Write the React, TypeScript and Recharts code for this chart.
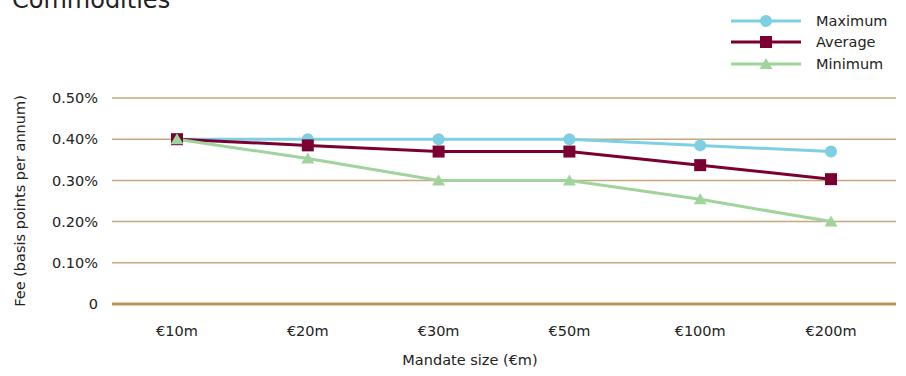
import {
  LineChart,
  Line,
  XAxis,
  YAxis,
  CartesianGrid,
  ReferenceLine,
  Label,
} from 'recharts';

const categories = ['€10m', '€20m', '€30m', '€50m', '€100m', '€200m'];
const maximum = [0.4, 0.4, 0.4, 0.4, 0.385, 0.37];
const average = [0.4, 0.385, 0.37, 0.37, 0.337, 0.303];
const minimum = [0.4, 0.353, 0.3, 0.3, 0.254, 0.2];
const yTicks = [0, 0.1, 0.2, 0.3, 0.4, 0.5];

const data = categories.map((c, i) => ({
  size: c,
  Maximum: maximum[i],
  Average: average[i],
  Minimum: minimum[i],
}));

const FONT = '"DejaVu Sans", sans-serif';
const TEXT = '#222';
const BLUE = '#7ecfe3';
const MAROON = '#7b0032';
const GREEN = '#a0d49c';

const CircleDot = ({ cx, cy }: any) => (
  <circle cx={cx} cy={cy} r={6} fill={BLUE} />
);
const SquareDot = ({ cx, cy }: any) => (
  <rect x={cx - 6} y={cy - 6} width={12} height={12} fill={MAROON} />
);
const TriangleDot = ({ cx, cy }: any) => (
  <polygon points={`${cx},${cy - 6} ${cx + 6.5},${cy + 5} ${cx - 6.5},${cy + 5}`} fill={GREEN} />
);

const legendItems = [
  { name: 'Maximum', color: BLUE, shape: 'circle' },
  { name: 'Average', color: MAROON, shape: 'square' },
  { name: 'Minimum', color: GREEN, shape: 'triangle' },
];

function ChartLegend() {
  return (
    <div
      style={{
        position: 'absolute',
        left: 731,
        top: 10,
        fontFamily: FONT,
        fontSize: 14.5,
        color: TEXT,
      }}
    >
      {legendItems.map((item) => (
        <div key={item.name} style={{ display: 'flex', alignItems: 'center', height: 21.5 }}>
          <svg width={70} height={14} style={{ marginRight: 15 }}>
            <line x1={0} y1={7} x2={70} y2={7} stroke={item.color} strokeWidth={3} />
            {item.shape === 'circle' && <circle cx={35} cy={7} r={6} fill={item.color} />}
            {item.shape === 'square' && <rect x={29} y={1} width={12} height={12} fill={item.color} />}
            {item.shape === 'triangle' && (
              <polygon points="35,1 41.5,12 28.5,12" fill={item.color} />
            )}
          </svg>
          <span>{item.name}</span>
        </div>
      ))}
    </div>
  );
}

export default function App() {
  return (
    <div style={{ position: 'absolute', left: 0, top: 0, width: 906, height: 376, overflow: 'hidden', background: '#fff' }}>
      <div
        style={{
          position: 'absolute',
          left: 12,
          top: -14,
          fontFamily: FONT,
          fontSize: 24,
          lineHeight: '28px',
          color: TEXT,
        }}
      >
        Commodities
      </div>
      <ChartLegend />
      <LineChart
        width={906}
        height={376}
        data={data}
        margin={{ top: 98, right: 10, left: 12, bottom: 32 }}
      >
        <CartesianGrid vertical={false} stroke="#c6a87c" strokeWidth={1.5} />
        <XAxis
          dataKey="size"
          axisLine={false}
          tickLine={false}
          tickSize={0}
          tickMargin={22}
          height={40}
          padding={{ left: 65, right: 65 }}
          tick={{ fontFamily: FONT, fontSize: 14.5, fill: TEXT }}
        >
          <Label
            value="Mandate size (€m)"
            position="insideBottom"
            offset={-21}
            dx={-34}
            style={{ fontFamily: FONT, fontSize: 14.5, fill: TEXT }}
          />
        </XAxis>
        <YAxis
          domain={[0, 0.5]}
          ticks={yTicks}
          axisLine={false}
          tickLine={false}
          tickSize={0}
          tickMargin={14}
          width={100}
          tickFormatter={(v: number) => (v === 0 ? '0' : `${v.toFixed(2)}%`)}
          tick={{ fontFamily: FONT, fontSize: 14.5, fill: TEXT }}
        >
          <Label
            value="Fee (basis points per annum)"
            angle={-90}
            position="insideLeft"
            offset={8}
            style={{ textAnchor: 'middle', fontFamily: FONT, fontSize: 14.5, fill: TEXT }}
          />
        </YAxis>
        <ReferenceLine y={0} stroke="#b8945c" strokeWidth={3} />
        <Line
          dataKey="Maximum"
          stroke={BLUE}
          strokeWidth={3}
          dot={<CircleDot />}
          activeDot={false}
          isAnimationActive={false}
        />
        <Line
          dataKey="Average"
          stroke={MAROON}
          strokeWidth={3}
          dot={<SquareDot />}
          activeDot={false}
          isAnimationActive={false}
        />
        <Line
          dataKey="Minimum"
          stroke={GREEN}
          strokeWidth={3}
          dot={<TriangleDot />}
          activeDot={false}
          isAnimationActive={false}
        />
      </LineChart>
    </div>
  );
}
